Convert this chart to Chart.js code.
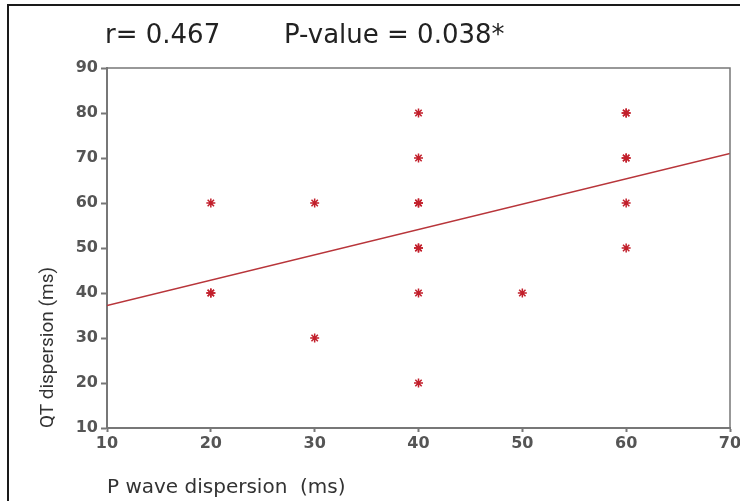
<!DOCTYPE html>
<html>
<head>
<meta charset="utf-8">
<script src="https://cdn.jsdelivr.net/npm/chart.js@4/dist/chart.umd.min.js"></script>
<style>
  html, body { margin: 0; padding: 0; background: #fff; }
  #wrap { width: 740px; height: 501px; position: relative; }
</style>
</head>
<body>
<div id="wrap"><canvas id="myChart" width="740" height="501"></canvas></div>
<script>
// P wave dispersion (x) vs QT dispersion (y), ms
const pWave = [20, 20, 20, 30, 30, 40, 40, 40, 40, 40, 40, 40, 40, 50, 60, 60, 60, 60, 60, 60];
const qtDisp = [60, 40, 40, 60, 30, 80, 70, 60, 60, 50, 50, 40, 20, 40, 80, 80, 70, 70, 60, 50];
const xTicks = [10, 20, 30, 40, 50, 60, 70];
const yTicks = [10, 20, 30, 40, 50, 60, 70, 80, 90];
const statR = 'r= 0.467';
const statP = 'P-value = 0.038*';

const points = pWave.map((x, i) => ({ x: x, y: qtDisp[i] }));

// least squares fit line over the x range
var n = pWave.length;
var mx = pWave.reduce((a, b) => a + b, 0) / n;
var my = qtDisp.reduce((a, b) => a + b, 0) / n;
var sxy = 0, sxx = 0;
for (var i = 0; i < n; i++) {
  sxy += (pWave[i] - mx) * (qtDisp[i] - my);
  sxx += (pWave[i] - mx) * (pWave[i] - mx);
}
var slope = sxy / sxx;
var icpt = my - slope * mx;
const xMin = xTicks[0], xMax = xTicks[xTicks.length - 1];
const fitLine = [
  { x: xMin, y: icpt + slope * xMin },
  { x: xMax, y: icpt + slope * xMax }
];

const frame = {
  id: 'frame',
  beforeDraw(chart) {
    const ctx = chart.ctx;
    ctx.save();
    ctx.fillStyle = '#fff';
    ctx.fillRect(0, 0, chart.width, chart.height);
    ctx.strokeStyle = '#1a1a1a';
    ctx.lineWidth = 2;
    ctx.strokeRect(8, 5, 800, 600);
    ctx.restore();
  },
  afterDraw(chart) {
    const ctx = chart.ctx;
    const a = chart.chartArea;
    ctx.save();
    ctx.strokeStyle = '#777';
    ctx.lineWidth = 1.5;
    ctx.beginPath();
    ctx.moveTo(a.left, a.top);
    ctx.lineTo(a.right, a.top);
    ctx.lineTo(a.right, a.bottom);
    ctx.stroke();
    ctx.fillStyle = '#222';
    ctx.font = '26px "DejaVu Sans"';
    ctx.textBaseline = 'middle';
    ctx.textAlign = 'left';
    ctx.fillText(statR, a.left - 2, 36);
    ctx.fillText(statP, a.left + 177, 36);
    ctx.restore();
  }
};

const tickFont = { family: 'DejaVu Sans', size: 16, weight: 'bold' };

const config = {
  type: 'scatter',
  data: {
    datasets: [{
      label: 'QT dispersion',
      data: points,
      pointStyle: 'star',
      pointRadius: 4.5,
      pointBorderWidth: 1.5,
      borderColor: '#c21f2b',
      backgroundColor: '#c21f2b'
    }, {
      type: 'line',
      label: 'fit',
      data: fitLine,
      borderColor: '#b8353a',
      borderWidth: 1.5,
      pointRadius: 0,
      fill: false
    }]
  },
  options: {
    responsive: false,
    animation: false,
    layout: { padding: { left: 32, right: 10, top: 68, bottom: 0 } },
    plugins: {
      legend: { display: false },
      tooltip: { enabled: false }
    },
    scales: {
      x: {
        type: 'linear',
        min: xMin,
        max: xMax,
        afterBuildTicks: s => { s.ticks = xTicks.map(v => ({ value: v })); },
        afterFit: s => { s.height = 73; s.paddingRight = 0; s.paddingLeft = 0; },
        ticks: { font: tickFont, color: '#555', padding: 2 },
        grid: { drawOnChartArea: false, tickLength: 4, tickWidth: 2, color: '#777' },
        border: { color: '#777', width: 2 },
        title: {
          display: true,
          text: 'P wave dispersion  (ms)',
          align: 'start',
          color: '#333',
          font: { family: 'DejaVu Sans', size: 20 },
          padding: { top: 0, bottom: 1 }
        }
      },
      y: {
        min: yTicks[0],
        max: yTicks[yTicks.length - 1],
        afterBuildTicks: s => { s.ticks = yTicks.map(v => ({ value: v })); },
        afterFit: s => { s.width = 75; },
        ticks: { font: tickFont, color: '#555', padding: 3 },
        grid: { drawOnChartArea: false, tickLength: 6, tickWidth: 2, color: '#777' },
        border: { color: '#777', width: 2 },
        title: {
          display: true,
          text: 'QT dispersion (ms)',
          align: 'start',
          color: '#333',
          font: { family: 'Roboto', size: 19 },
          padding: { top: 5, bottom: 4 }
        }
      }
    }
  },
  plugins: [frame]
};

var myChart = new Chart(document.getElementById('myChart'), config);
</script>
</body>
</html>
